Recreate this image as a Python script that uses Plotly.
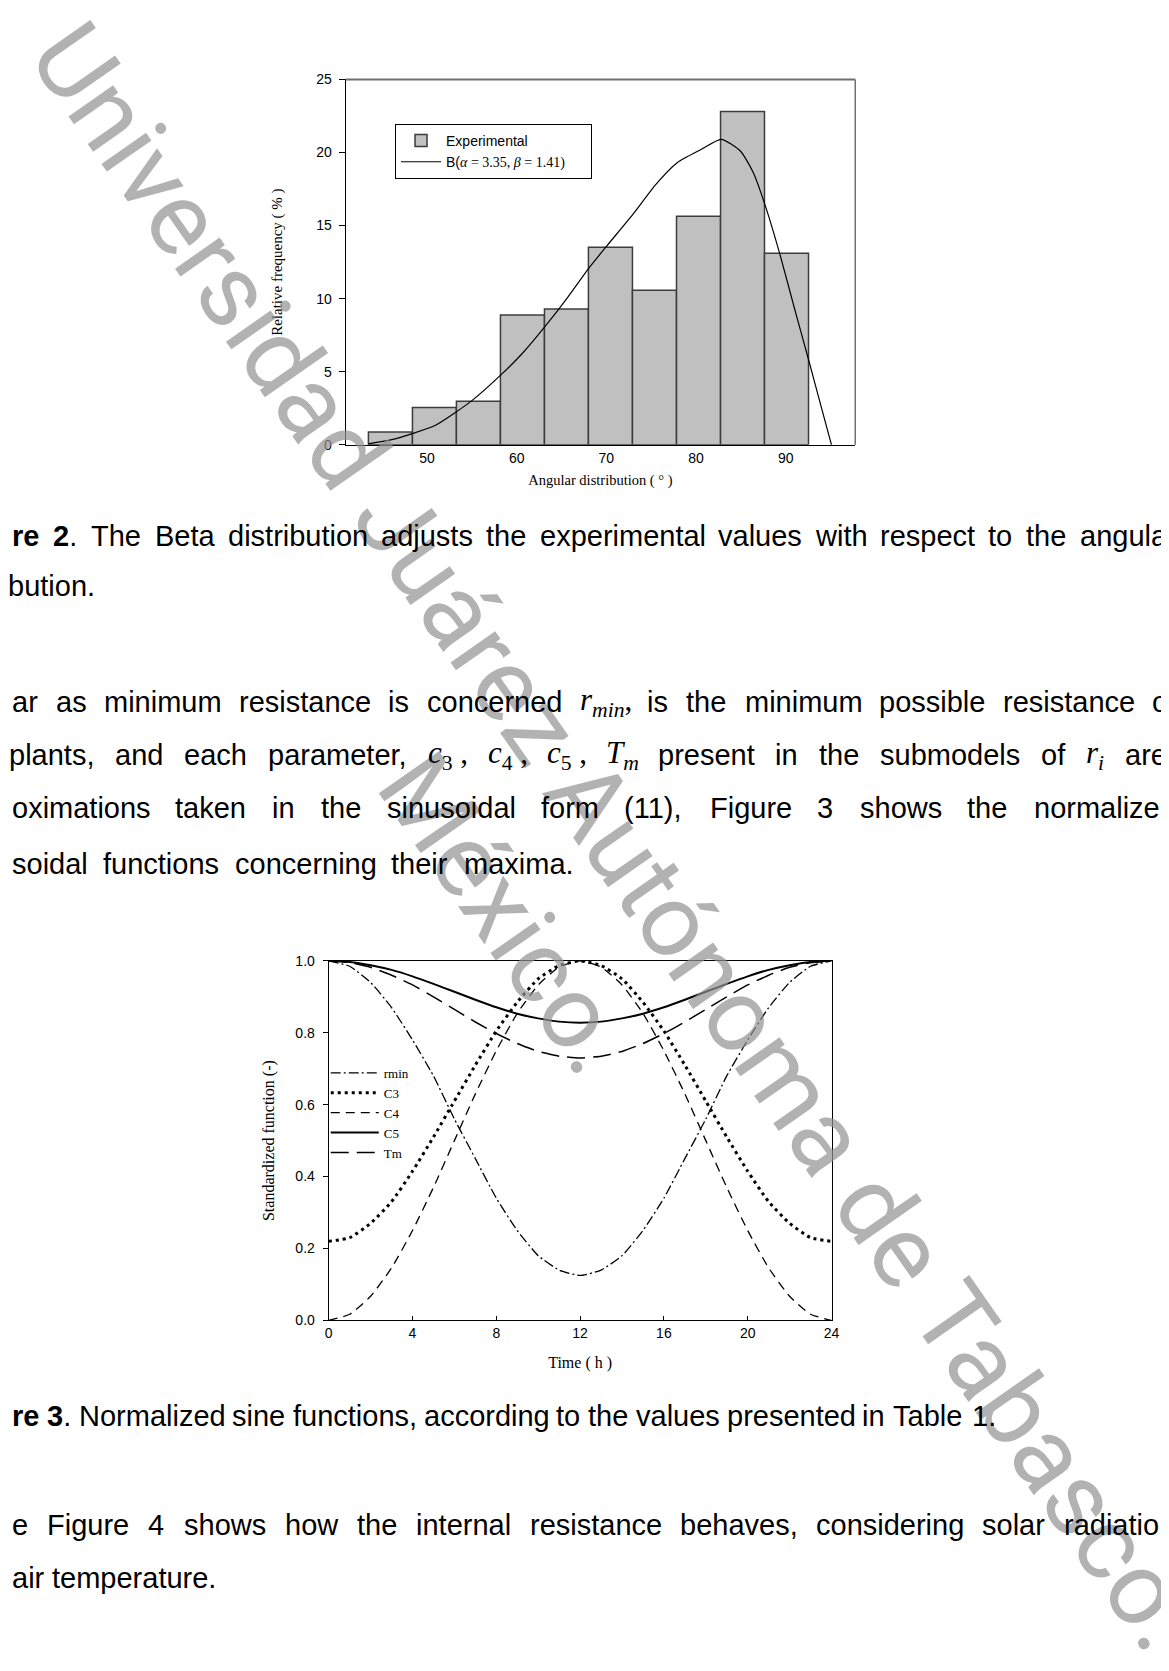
import plotly.graph_objects as go

W, H = 1169, 1671

# ---------------- Figure 2 data ----------------
bin_edges = [43.47, 48.38, 53.28, 58.19, 63.10, 68.00, 72.91, 77.82, 82.73, 87.63, 92.54]
rel_freq = [0.88, 2.56, 2.99, 8.89, 9.30, 13.51, 10.57, 15.63, 22.81, 13.10]
beta_x = [43.46, 45.95, 48.45, 51.0, 54.94, 58.27, 60.7, 63.17, 65.67, 68.07, 70.04, 73.0, 75.5,
          77.89, 80.56, 82.80, 84.94, 86.4, 87.70, 89.32, 90.9, 92.6, 94.0, 95.1]
beta_y = [0.07, 0.34, 0.79, 1.36, 2.99, 4.8, 6.3, 8.1, 10.07, 12.1, 13.6, 15.8, 17.8,
          19.3, 20.2, 20.9, 20.1, 18.6, 16.4, 13.1, 9.5, 5.7, 2.5, 0.0]
fig2_xticks = [50, 60, 70, 80, 90]
fig2_yticks = [0, 5, 10, 15, 20, 25]

# ---------------- Figure 3 data ----------------
hours = [0, 1, 2, 3, 4, 5, 6, 7, 8, 9, 10, 11, 12, 13, 14, 15, 16, 17, 18, 19, 20, 21, 22, 23, 24]
rmin = [1.00, 0.985, 0.94, 0.87, 0.78, 0.68, 0.56, 0.45, 0.34, 0.25, 0.18, 0.14, 0.125,
        0.14, 0.18, 0.25, 0.34, 0.45, 0.56, 0.68, 0.78, 0.87, 0.94, 0.985, 1.00]
c3 = [0.22, 0.23, 0.27, 0.33, 0.415, 0.51, 0.61, 0.71, 0.805, 0.885, 0.95, 0.987, 1.00,
      0.987, 0.95, 0.885, 0.805, 0.71, 0.61, 0.51, 0.415, 0.33, 0.27, 0.23, 0.22]
c4 = [0.00, 0.017, 0.067, 0.146, 0.25, 0.37, 0.50, 0.63, 0.75, 0.854, 0.933, 0.983, 1.00,
      0.983, 0.933, 0.854, 0.75, 0.63, 0.50, 0.37, 0.25, 0.146, 0.067, 0.017, 0.00]
c5 = [1.00, 0.997, 0.988, 0.975, 0.957, 0.936, 0.914, 0.892, 0.871, 0.853, 0.84, 0.831, 0.828,
      0.831, 0.84, 0.853, 0.871, 0.892, 0.914, 0.936, 0.957, 0.975, 0.988, 0.997, 1.00]
tm = [1.00, 0.995, 0.982, 0.96, 0.933, 0.90, 0.865, 0.83, 0.798, 0.77, 0.748, 0.735, 0.73,
      0.735, 0.748, 0.77, 0.798, 0.83, 0.865, 0.90, 0.933, 0.96, 0.982, 0.995, 1.00]
fig3_xticks = [0, 4, 8, 12, 16, 20, 24]
fig3_yticks = [0.0, 0.2, 0.4, 0.6, 0.8, 1.0]

SANS = "Liberation Sans"
SERIF = "Liberation Serif"

fig = go.Figure()

centers = [(a + b) / 2 for a, b in zip(bin_edges[:-1], bin_edges[1:])]
widths = [b - a for a, b in zip(bin_edges[:-1], bin_edges[1:])]
fig.add_trace(go.Bar(
    x=centers, y=rel_freq, width=widths, name="Experimental",
    marker=dict(color="#c0c0c0", line=dict(color="#3c3c3c", width=1.5)),
    xaxis="x", yaxis="y", legend="legend"))
fig.add_trace(go.Scatter(
    x=beta_x, y=beta_y, mode="lines",
    name="B(<span style='font-family:Liberation Serif'><i>α</i> = 3.35, <i>β</i> = 1.41)\u2003\u2002</span>",
    line=dict(color="black", width=1.2, shape="spline", smoothing=0.6),
    xaxis="x", yaxis="y", legend="legend"))

series = [
    ("rmin", rmin, dict(color="black", width=1.3, dash="10px,3px,2px,3px")),
    ("C3", c3, dict(color="black", width=3, dash="3px,4px")),
    ("C4", c4, dict(color="black", width=1.3, dash="9px,6px")),
    ("C5", c5, dict(color="black", width=2)),
    ("Tm", tm, dict(color="black", width=1.5, dash="18px,8px")),
]
for name, vals, ln in series:
    ln = dict(ln, shape="spline", smoothing=0.5)
    fig.add_trace(go.Scatter(x=hours, y=vals, mode="lines", name=name, line=ln,
                             xaxis="x2", yaxis="y2", legend="legend2"))

# ---------------- layout ----------------
tickf = dict(family=SANS, size=14, color="black")
fig.update_layout(
    width=W, height=H, autosize=False,
    margin=dict(l=0, r=0, t=0, b=0),
    paper_bgcolor="white", plot_bgcolor="white",
    showlegend=True,
    xaxis=dict(domain=[337 / W, 852 / W], anchor="y", range=[40.92, 97.75],
               tickvals=fig2_xticks, ticks="", showline=True, linecolor="black", linewidth=1,
               showgrid=False, zeroline=False, tickfont=tickf,
               title=dict(text="Angular distribution ( ° )", font=dict(family=SERIF, size=14.5, color="black"),
                          standoff=10)),
    yaxis=dict(domain=[1 - 433 / H, 1 - 64 / H], anchor="x", range=[0, 25],
               tickvals=fig2_yticks, ticks="outside", ticklen=6, tickcolor="black",
               ticklabelstandoff=4,
               showline=True, linecolor="black", linewidth=1,
               showgrid=False, zeroline=False, tickfont=tickf,
               title=dict(text="Relative frequency ( % )", font=dict(family=SERIF, size=15, color="black"),
                          standoff=29)),
    xaxis2=dict(domain=[320 / W, 828 / W], anchor="y2", range=[0, 24],
                tickvals=fig3_xticks, ticks="inside", ticklen=4, tickcolor="black",
                showline=True, mirror=True, linecolor="black", linewidth=1.2,
                showgrid=False, zeroline=False, tickfont=tickf,
                title=dict(text="Time ( h )", font=dict(family=SERIF, size=16, color="black"), standoff=16)),
    yaxis2=dict(domain=[1 - 1317 / H, 1 - 954 / H], anchor="x2", range=[0, 1],
                tickvals=fig3_yticks, tickformat=".1f", ticks="outside", ticklen=5, tickcolor="black",
                ticklabelstandoff=5,
                showline=True, mirror=True, linecolor="black", linewidth=1.2,
                showgrid=False, zeroline=False, tickfont=tickf,
                title=dict(text="Standardized function (-)", font=dict(family=SERIF, size=16, color="black"),
                           standoff=16)),
    legend=dict(x=387 / W, y=1 - 109 / H, xanchor="left", yanchor="top",
                bordercolor="black", borderwidth=1, bgcolor="white",
                font=dict(family=SANS, size=14, color="black"), itemwidth=40,
                tracegroupgap=0),
    legend2=dict(x=317 / W, y=1 - 1052 / H, xanchor="left", yanchor="top",
                 bgcolor="rgba(0,0,0,0)", borderwidth=0,
                 font=dict(family=SERIF, size=13, color="black"), itemwidth=48,
                 tracegroupgap=0),
)

# gray top/right frame of Figure 2
fig.add_shape(type="line", xref="x domain", yref="y domain", x0=0, x1=1, y0=1, y1=1,
              line=dict(color="#707070", width=2))
fig.add_shape(type="line", xref="x domain", yref="y domain", x0=1, x1=1, y0=0, y1=1,
              line=dict(color="#707070", width=1.5))

# ---------------- watermark ----------------
annotations = [dict(
    x=555 / W, y=1 - 868 / H, xref="paper", yref="paper",
    text="Universidad Juárez Autónoma de Tabasco.<br>México.",
    showarrow=False, textangle=55, xanchor="center", yanchor="middle", align="center",
    font=dict(family="Roboto", weight=400, size=103, color="rgba(145,145,145,0.7)"))]

# ---------------- body text ----------------
AW = {' ': 278, '(': 333, ')': 333, ',': 278, '-': 333, '.': 278, '%': 889}
for d in "0123456789":
    AW[d] = 556
AW.update({'A': 667, 'B': 667, 'C': 722, 'D': 722, 'E': 667, 'F': 611, 'G': 778, 'H': 722, 'I': 278,
           'J': 500, 'K': 667, 'L': 556, 'M': 833, 'N': 722, 'O': 778, 'P': 667, 'R': 722, 'S': 667,
           'T': 611, 'U': 722, 'V': 667, 'W': 944,
           'a': 556, 'b': 556, 'c': 500, 'd': 556, 'e': 556, 'f': 278, 'g': 556, 'h': 556, 'i': 222,
           'j': 222, 'k': 500, 'l': 222, 'm': 833, 'n': 556, 'o': 556, 'p': 556, 'q': 556, 'r': 333,
           's': 500, 't': 278, 'u': 556, 'v': 500, 'w': 722, 'x': 500, 'y': 500, 'z': 500})
FS = 29


def word(w, shown=None):
    # layout width from the full word, text shown = the part visible on the page
    return (shown if shown is not None else w, sum(AW.get(ch, 556) for ch in w) * FS / 1000.0, SANS, FS)


def math(html, width):
    return (html, width, SERIF, 31)


def add_line(tokens, y, x0=0.0, right=None):
    total = sum(t[1] for t in tokens)
    if right is not None and len(tokens) > 1:
        gap = (right - x0 - total) / (len(tokens) - 1)
    else:
        gap = AW[' '] * FS / 1000.0
    x = x0
    for html, wpx, fam, size in tokens:
        annotations.append(dict(x=x / W, y=1 - y / H, xref="paper", yref="paper", text=html,
                                showarrow=False, xanchor="left", yanchor="middle",
                                borderpad=0, borderwidth=0,
                                font=dict(family=fam, size=size, color="black")))
        x += wpx + gap


cap2 = [("<b>re</b>", 945 * FS / 1000.0, SANS, FS), ("<b>2</b>.", 834 * FS / 1000.0, SANS, FS)] + \
       [word(w) for w in "The Beta distribution adjusts the experimental values with respect to the".split()] + \
       [word("angular", "angula")]
add_line(cap2, 525, 0, 1176)
add_line([word("bution.")], 576, -4)

p1 = [word(w) for w in "ar as minimum resistance is concerned".split()] + \
     [math("<i>r</i><sub><i>min</i></sub>,", 50)] + \
     [word(w) for w in "is the minimum possible resistance".split()] + [word("of", "o")]
add_line(p1, 693, 0, 1176)
p2 = [word(w) for w in "plants, and each parameter,".split()] + \
     [math("<i>c</i><sub>3</sub> ,", 38), math("<i>c</i><sub>4</sub> ,", 38),
      math("<i>c</i><sub>5</sub> ,", 38), math("<i>T</i><sub><i>m</i></sub>", 31)] + \
     [word(w) for w in "present in the submodels of".split()] + \
     [math("<i>r</i><sub><i>i</i></sub>", 17), word("are")]
add_line(p2, 746, -3, 1166)
p3 = [word(w) for w in "oximations taken in the sinusoidal form (11), Figure 3 shows the".split()] + \
     [word("normalized", "normalize")]
add_line(p3, 800, 0, 1174)
add_line([word(w) for w in "soidal functions concerning their maxima.".split()], 856, 0, 566)

cap3 = [("<b>re</b>", 945 * FS / 1000.0, SANS, FS), ("<b>3</b>.", 834 * FS / 1000.0, SANS, FS)] + \
       [word(w) for w in "Normalized sine functions, according to the values presented in Table 1.".split()]
add_line(cap3, 1414, 0)
p4 = [word(w) for w in "e Figure 4 shows how the internal resistance behaves, considering solar".split()] + \
     [word("radiation", "radiatio")]
add_line(p4, 1524, 0, 1174)
add_line([word(w) for w in "air temperature.".split()], 1577, 0)

fig.update_layout(annotations=annotations)
fig.write_html("out.html")
